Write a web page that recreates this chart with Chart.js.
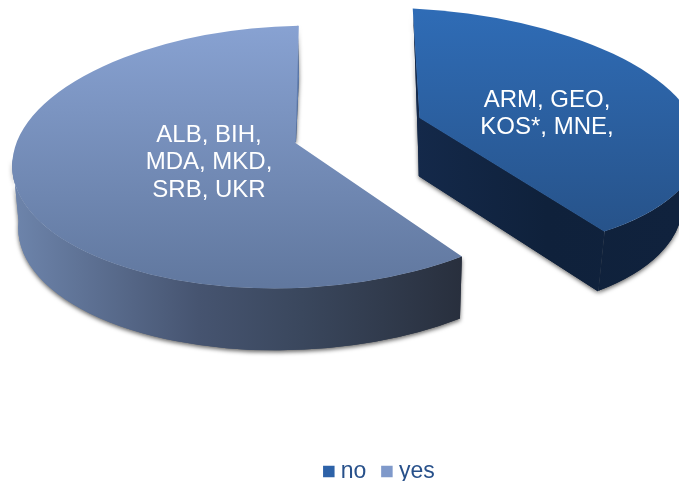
<!DOCTYPE html>
<html>
<head>
<meta charset="utf-8">
<style>
  html, body { margin: 0; padding: 0; background: #fff; }
  canvas { display: block; }
</style>
</head>
<body>
<canvas id="myChart" width="679" height="481"></canvas>
<script src="https://cdn.jsdelivr.net/npm/chart.js@4"></script>
<script>
//data
const categories = ["no", "yes"];
const countryCounts = [4, 6];
const countryLines = [
  ["ARM, GEO,", "KOS*, MNE,"],
  ["ALB, BIH,", "MDA, MKD,", "SRB, UKR"],
];
const legendColors = ["#2d62a8", "#7f99ca"];

//the picture is a tilted, exploded pie. Chart.js works out the slice angles,
//this says how each slice is projected on the page
const views = [
  {
    top: { cx: 418, cy: 130, rx: 282, ry: 121, tilt: 0.07 },
    base: { cx: 435, cy: 191, rx: 248, ry: 121, tilt: 0.07 },
    apex: [419.5, 118], apexLow: [419, 176],
    startDeg: 267.2, stretch: 0.97,
    wall: [0, 46.7],
    sliver: [[413, 9], [415, 60], [419, 176], [419.5, 118]],
    faceColors: ["#2f6cb6", "#27538a"], faceY: [9, 231],
    sideStops: [[0, "#14294a"], [0.5, "#0f213b"], [1, "#10223d"]], sideX: [415, 679],
    text: [547, 100],
  },
  {
    top: { cx: 293, cy: 157, rx: 281, ry: 131, tilt: -0.04 },
    base: { cx: 294, cy: 219, rx: 276, ry: 131, tilt: -0.04 },
    apex: [295.5, 143], apexLow: null,
    startDeg: 54.1, stretch: 1.01,
    wall: [54.1, 184],
    sliver: [[297.7, 25], [299, 77], [296, 142], [291, 140]],
    sliverColor: "#5f7cae",
    faceColors: ["#88a2d2", "#61789f"], faceY: [25, 285],
    sideStops: [[0, "#6d84ab"], [0.41, "#465470"], [0.64, "#3a475d"], [1, "#282f3d"]], sideX: [15, 463],
    text: [209, 135],
  },
];

const rad = (deg) => deg * Math.PI / 180;

function outerPoint(e, t) {
  const x = e.rx * Math.cos(t), y = e.ry * Math.sin(t);
  return [
    e.cx + x * Math.cos(e.tilt) - y * Math.sin(e.tilt),
    e.cy + x * Math.sin(e.tilt) + y * Math.cos(e.tilt),
  ];
}

function polygon(ctx, pts) {
  ctx.beginPath();
  pts.forEach((p, i) => (i ? ctx.lineTo(p[0], p[1]) : ctx.moveTo(p[0], p[1])));
  ctx.closePath();
}

function faceShape(ctx, v, s0, s1) {
  const e = v.top;
  ctx.beginPath();
  ctx.moveTo(v.apex[0], v.apex[1]);
  ctx.ellipse(e.cx, e.cy, e.rx, e.ry, e.tilt, s0, s1);
  ctx.closePath();
}

// outer wall, between the top and the bottom rim
function wallShape(ctx, v) {
  const a = rad(v.wall[0]), b = rad(v.wall[1]);
  const e = v.top, f = v.base;
  ctx.beginPath();
  ctx.ellipse(e.cx, e.cy, e.rx, e.ry, e.tilt, a, b);
  ctx.ellipse(f.cx, f.cy, f.rx, f.ry, f.tilt, b, a, true);
  ctx.closePath();
}

function drawSlice(ctx, arc, v) {
  const s0 = rad(v.startDeg);
  const s1 = s0 + (arc.endAngle - arc.startAngle) * v.stretch;
  const cut = v.apexLow ? [v.apex, v.apexLow, outerPoint(v.base, s1), outerPoint(v.top, s1)] : null;
  const sideFill = ctx.createLinearGradient(v.sideX[0], 0, v.sideX[1], 0);
  v.sideStops.forEach((s) => sideFill.addColorStop(s[0], s[1]));

  // silhouette, only to get the soft shadow
  ctx.save();
  ctx.shadowColor = "rgba(0,0,0,0.6)";
  ctx.shadowBlur = 4;
  ctx.shadowOffsetY = 2;
  ctx.fillStyle = sideFill;
  wallShape(ctx, v);
  ctx.fill();
  polygon(ctx, v.sliver);
  ctx.fill();
  if (cut) {
    polygon(ctx, cut);
    ctx.fill();
  }
  ctx.restore();

  ctx.fillStyle = sideFill;
  wallShape(ctx, v);
  ctx.fill();
  if (cut) {
    polygon(ctx, cut);
    ctx.fill();
    ctx.strokeStyle = sideFill;
    ctx.lineWidth = 1;
    ctx.stroke();
  }
  ctx.fillStyle = v.sliverColor || sideFill;
  polygon(ctx, v.sliver);
  ctx.fill();

  // top face
  const faceFill = ctx.createLinearGradient(0, v.faceY[0], 0, v.faceY[1]);
  faceFill.addColorStop(0, v.faceColors[0]);
  faceFill.addColorStop(1, v.faceColors[1]);
  ctx.fillStyle = faceFill;
  faceShape(ctx, v, s0, s1);
  ctx.fill();
}

const tiltedPie = {
  id: "tiltedPie",
  afterLayout(chart) {
    // legend row sits at the very bottom of the page
    chart.legend.top += 12;
    chart.legend.bottom += 12;
  },
  beforeDatasetsDraw(chart) {
    const { ctx } = chart;
    const arcs = chart.getDatasetMeta(0).data;
    ctx.save();
    arcs.forEach((arc, i) => drawSlice(ctx, arc, views[i]));
    ctx.fillStyle = "#fff";
    ctx.font = "24px 'Liberation Sans'";
    ctx.textAlign = "center";
    ctx.textBaseline = "middle";
    countryLines.forEach((lines, i) => {
      lines.forEach((line, j) => {
        ctx.fillText(line, views[i].text[0], views[i].text[1] + j * 27.5);
      });
    });
    ctx.restore();
    return false;
  },
};

//config
const config = {
  type: "pie",
  data: {
    labels: categories,
    datasets: [
      {
        label: "countries",
        data: countryCounts,
        backgroundColor: legendColors,
        borderWidth: 0,
        radius: 200,
      },
    ],
  },
  options: {
    responsive: false,
    animation: false,
    events: [],
    layout: { padding: { left: 84 } },
    plugins: {
      tooltip: { enabled: false },
      legend: {
        display: true,
        position: "bottom",
        labels: {
          color: "#27508a",
          usePointStyle: true,
          pointStyle: "rect",
          boxWidth: 1,
          boxHeight: 11.5,
          padding: 20,
          font: { family: "'Liberation Sans'", size: 23 },
        },
      },
    },
  },
  plugins: [tiltedPie],
};

//render
const myChart = new Chart(document.getElementById("myChart"), config);
</script>
</body>
</html>
